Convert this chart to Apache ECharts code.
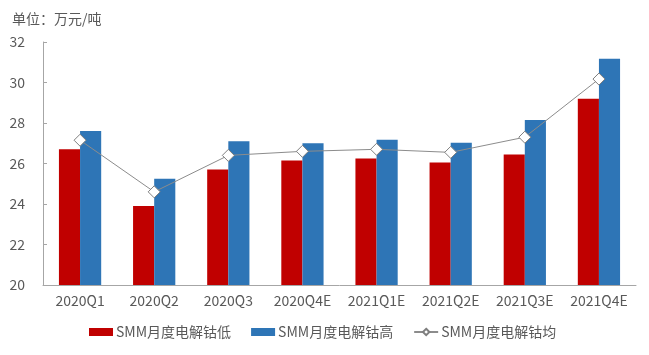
<!DOCTYPE html>
<html><head><meta charset="utf-8">
<script src="https://cdn.jsdelivr.net/npm/echarts@6/dist/echarts.min.js"></script>
<style>html,body{margin:0;padding:0;background:#fff}#c{width:649px;height:355px}</style>
</head><body><div id="c"></div>
<script>
const categories = ['2020Q1','2020Q2','2020Q3','2020Q4E','2021Q1E','2021Q2E','2021Q3E','2021Q4E'];
const lowValues  = [26.7, 23.9, 25.7, 26.15, 26.25, 26.05, 26.45, 29.2];
const highValues = [27.6, 25.25, 27.1, 27.0, 27.17, 27.03, 28.15, 31.17];
const avgValues  = [27.15, 24.6, 26.4, 26.6, 26.7, 26.55, 27.3, 30.17];
const seriesNames = ['SMM月度电解钴低','SMM月度电解钴高','SMM月度电解钴均'];
const unitLabel = '单位：万元/吨';

const font = '"Noto Sans CJK SC", sans-serif';
const chart = echarts.init(document.getElementById('c'), null, {renderer:'canvas'});
chart.setOption({
  animation:false,
  backgroundColor:'#fff',
  title:{text:unitLabel,left:7,top:7,textStyle:{fontSize:14,fontWeight:'normal',color:'#595959',fontFamily:font}},
  grid:{left:43,right:13,top:42,bottom:70},
  legend:{
    bottom:11,left:84,itemWidth:24,itemHeight:8,itemGap:20,
    textStyle:{fontSize:14,color:'#595959',fontFamily:font,padding:[0,0,0,-2]},
    data:[{name:seriesNames[0],icon:'rect'},{name:seriesNames[1],icon:'rect'},{name:seriesNames[2]}]
  },
  xAxis:{type:'category',data:categories,
    axisLine:{lineStyle:{color:'#A6A6A6'}},
    axisTick:{inside:true,length:4,lineStyle:{color:'#A6A6A6'}},
    axisLabel:{interval:0,hideOverlap:false,fontSize:14,color:'#595959',fontFamily:font,margin:9}},
  yAxis:{type:'value',min:20,max:32,interval:2,
    axisLine:{show:true,lineStyle:{color:'#A6A6A6'}},
    axisTick:{show:true,inside:true,length:4,lineStyle:{color:'#A6A6A6'}},
    splitLine:{show:false},
    axisLabel:{fontSize:14,color:'#595959',fontFamily:font,margin:18}},
  series:[
    {name:seriesNames[0],type:'bar',data:lowValues,barGap:'0%',barCategoryGap:'43%',itemStyle:{color:'#C00000'}},
    {name:seriesNames[1],type:'bar',data:highValues,barGap:'0%',barCategoryGap:'43%',itemStyle:{color:'#2E75B6'}},
    {name:seriesNames[2],type:'line',data:avgValues,symbol:'diamond',symbolSize:12,
      lineStyle:{color:'#8C8C8C',width:1},
      itemStyle:{color:'#fff',borderColor:'#7F7F7F',borderWidth:1},z:5}
  ]
});
</script></body></html>
